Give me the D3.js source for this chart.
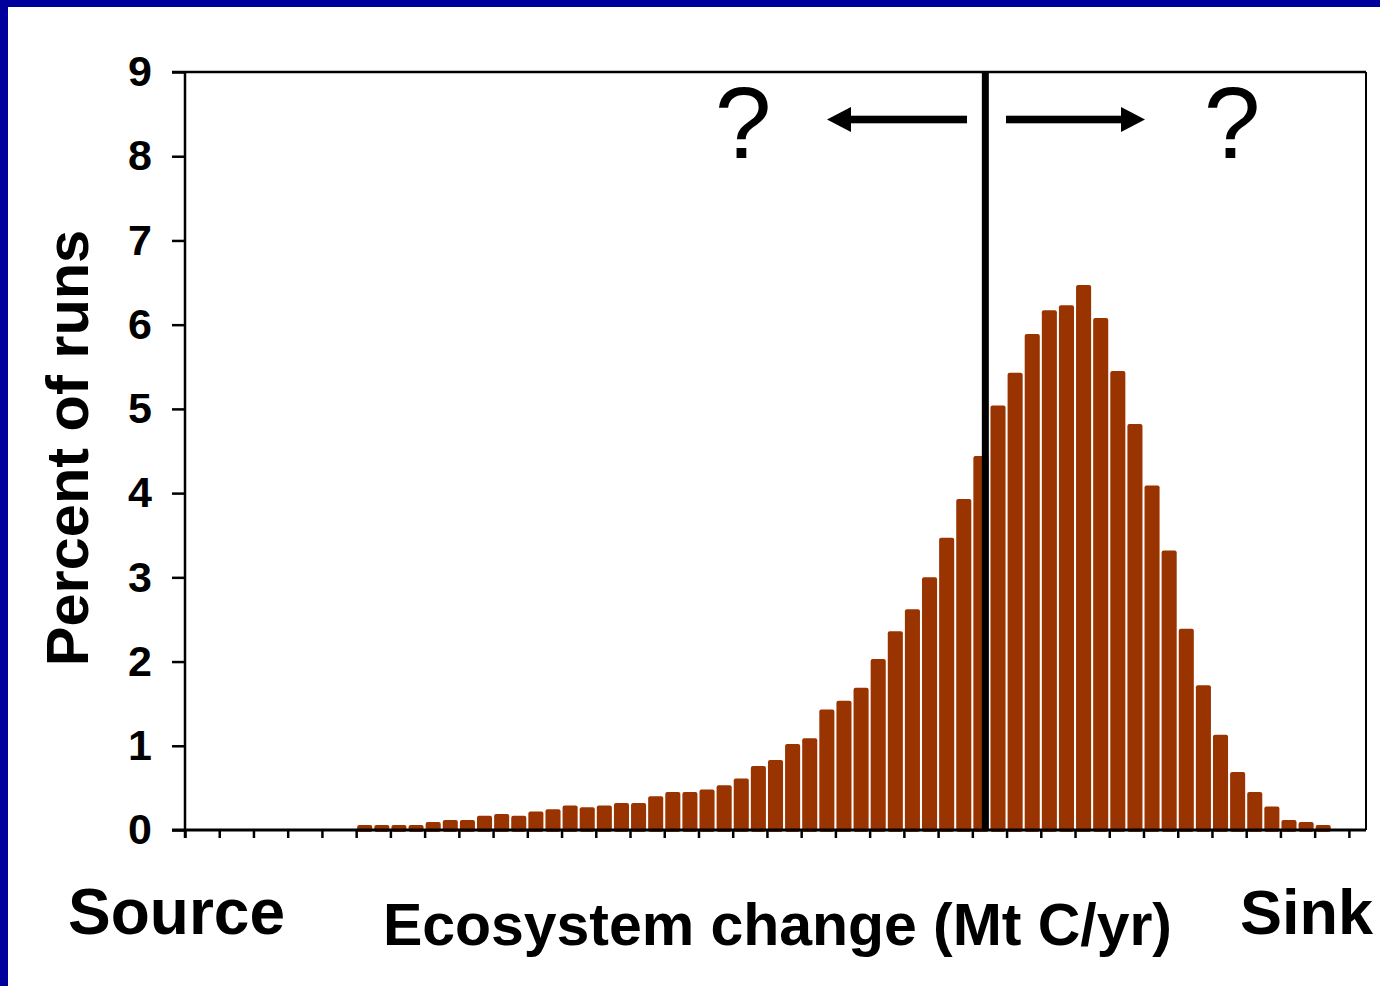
<!DOCTYPE html>
<html>
<head>
<meta charset="utf-8">
<script src="https://cdn.jsdelivr.net/npm/d3@7"></script>
<style>
  body { margin: 0; background: #fff; }
  svg text { font-family: "Liberation Sans", Arial, sans-serif; }
</style>
</head>
<body>
<div id="graph"></div>
<script>
// histogram bins: 69 slots on the axis, bars start at bin 10
let binCount = 69;
let firstBin = 10;
let percent = [
  0.06, 0.06, 0.06, 0.06, 0.095, 0.12, 0.12, 0.17, 0.19, 0.17,
  0.22, 0.245, 0.29, 0.27, 0.29, 0.32, 0.32, 0.40, 0.45, 0.45,
  0.48, 0.53, 0.61, 0.76, 0.83, 1.02, 1.09, 1.43, 1.535, 1.69,
  2.03, 2.36, 2.62, 3.00, 3.47, 3.93, 4.44, 5.04, 5.43, 5.89,
  6.17, 6.23, 6.47, 6.08, 5.45, 4.82, 4.09, 3.32, 2.39, 1.72,
  1.13, 0.69, 0.45, 0.28, 0.12, 0.095, 0.06
];
let yTicks = [0, 1, 2, 3, 4, 5, 6, 7, 8, 9];
let zeroBin = 46.76; // position of the vertical "today" line, in bins

function graph() {
  let w = 1380;
  let h = 986;
  let left = 185, right = 1366, top = 72, bottom = 830;

  const svg = d3.select("#graph")
                .append("svg")
                .attr("width", w)
                .attr("height", h);

  // blue slide frame
  svg.append("rect").attr("x", 0).attr("y", 0).attr("width", w).attr("height", 7).attr("fill", "#00009c");
  svg.append("rect").attr("x", 0).attr("y", 0).attr("width", 8).attr("height", h).attr("fill", "#00009c");

  const bins = d3.range(binCount);
  const xScale = d3.scaleBand()
                   .domain(bins)
                   .range([left, right])
                   .paddingInner(0.12)
                   .paddingOuter(0.06);
  const xLin = d3.scaleLinear().domain([0, binCount]).range([left, right]);

  const yScale = d3.scaleLinear()
                   .domain([0, 9])
                   .range([bottom, top]);

  const data = percent.map((v, i) => ({bin: firstBin + i, value: v}));

  svg.selectAll(".bar")
     .data(data)
     .enter()
     .append("rect")
     .attr("class", "bar")
     .attr("x", d => xScale(d.bin))
     .attr("y", d => yScale(d.value))
     .attr("width", xScale.bandwidth())
     .attr("height", d => yScale(0) - yScale(d.value) + 2)
     .attr("rx", 2)
     .attr("fill", "#993300");

  // plot frame
  svg.append("line").attr("x1", left - 13).attr("x2", right).attr("y1", top).attr("y2", top)
     .attr("stroke", "#000").attr("stroke-width", 2.5);
  svg.append("line").attr("x1", right).attr("x2", right).attr("y1", top).attr("y2", bottom)
     .attr("stroke", "#000").attr("stroke-width", 2);

  const yAxis = d3.axisLeft(yScale)
                  .tickValues(yTicks)
                  .tickSize(13)
                  .tickPadding(20)
                  .tickFormat(d3.format("d"));

  let gy = svg.append("g")
     .attr("id", "y-axis")
     .attr("transform", "translate(" + left + ",0)")
     .call(yAxis);
  gy.select(".domain").attr("stroke-width", 2.5).attr("d", "M0," + top + "V" + (bottom + 8));
  gy.selectAll(".tick line").attr("stroke-width", 2.5);
  gy.selectAll(".tick text")
    .attr("font-size", 43)
    .attr("font-weight", "bold")
    .attr("font-family", "Liberation Sans, Arial, sans-serif")
    .attr("fill", "#000");

  const xAxis = d3.axisBottom(xLin)
                  .tickValues(d3.range(0, binCount, 2))
                  .tickSize(8)
                  .tickFormat("");

  let gx = svg.append("g")
     .attr("id", "x-axis")
     .attr("transform", "translate(0," + bottom + ")")
     .call(xAxis);
  gx.select(".domain").attr("stroke-width", 3).attr("d", "M" + (left - 13) + ",0H" + right);
  gx.selectAll(".tick line").attr("stroke-width", 2.5);

  // vertical reference line
  svg.append("line")
     .attr("x1", xLin(zeroBin)).attr("x2", xLin(zeroBin))
     .attr("y1", top + 1).attr("y2", bottom)
     .attr("stroke", "#000").attr("stroke-width", 7);

  // arrows
  let ay = 119.5;
  svg.append("rect").attr("x", 849).attr("y", ay - 3.8).attr("width", 118).attr("height", 7.6).attr("fill", "#000");
  svg.append("path").attr("d", "M827," + ay + "L851," + (ay - 12.5) + "L851," + (ay + 12.5) + "Z").attr("fill", "#000");
  svg.append("rect").attr("x", 1006).attr("y", ay - 3.8).attr("width", 118).attr("height", 7.6).attr("fill", "#000");
  svg.append("path").attr("d", "M1145," + ay + "L1121," + (ay - 12.5) + "L1121," + (ay + 12.5) + "Z").attr("fill", "#000");

  svg.append("text").attr("x", 743).attr("y", 158).attr("text-anchor", "middle")
     .attr("font-size", 102).text("?");
  svg.append("text").attr("x", 1232).attr("y", 158).attr("text-anchor", "middle")
     .attr("font-size", 102).text("?");

  // axis titles
  svg.append("text")
     .attr("transform", "translate(88,448) rotate(-90)")
     .attr("text-anchor", "middle")
     .attr("font-size", 59.5)
     .attr("font-weight", "bold")
     .text("Percent of runs");

  svg.append("text")
     .attr("x", 68).attr("y", 934)
     .attr("font-size", 64)
     .attr("font-weight", "bold")
     .text("Source");

  svg.append("text")
     .attr("x", 1240).attr("y", 934)
     .attr("font-size", 63)
     .attr("font-weight", "bold")
     .text("Sink");

  svg.append("text")
     .attr("x", 383).attr("y", 945)
     .attr("font-size", 59)
     .attr("font-weight", "bold")
     .attr("textLength", 789)
     .attr("lengthAdjust", "spacing")
     .text("Ecosystem change (Mt C/yr)");
}

graph();
</script>
</body>
</html>
